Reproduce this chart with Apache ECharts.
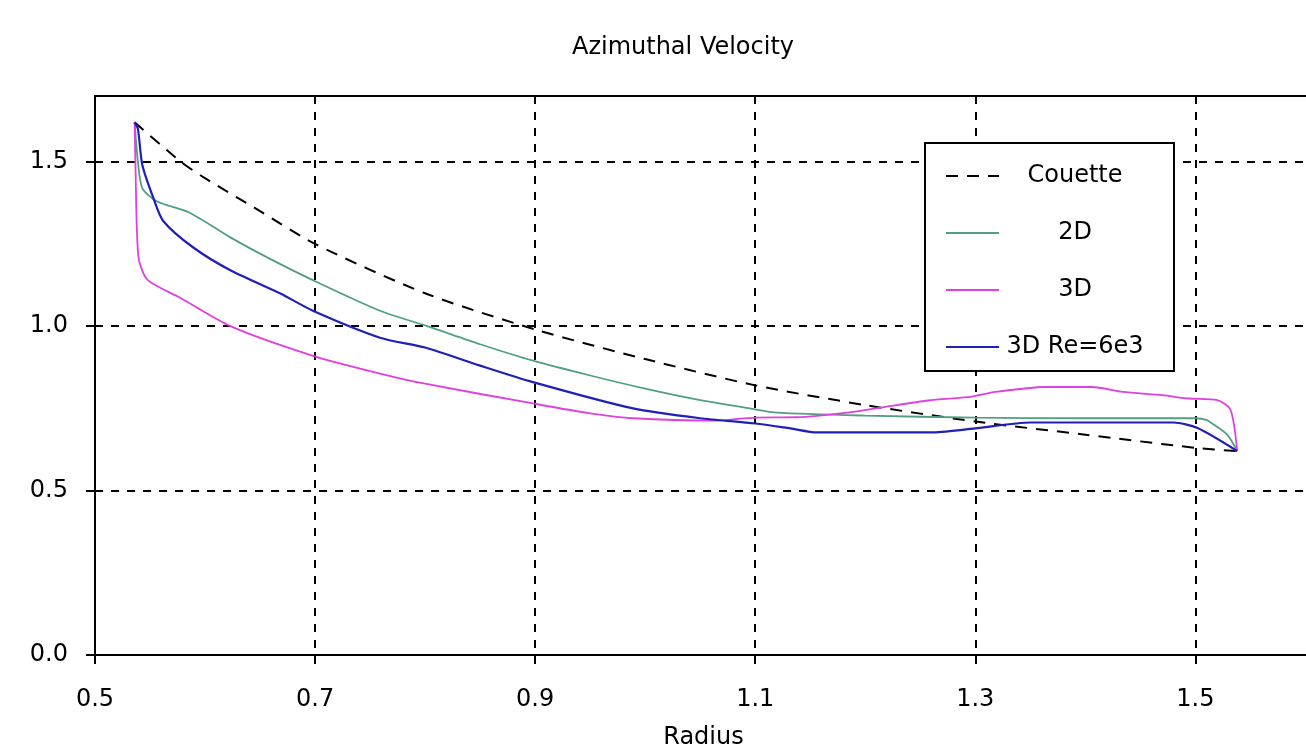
<!DOCTYPE html>
<html>
<head>
<meta charset="utf-8">
<title>Azimuthal Velocity</title>
<script src="https://cdn.jsdelivr.net/npm/echarts@6/dist/echarts.min.js"></script>
<style>
  html, body { margin: 0; padding: 0; background: #fff; }
  #chart { width: 1306px; height: 748px; }
</style>
</head>
<body>
<div id="chart"></div>
<script>
// values, [radius, velocity]
const couette = [
  [0.536, 1.62], [0.578, 1.50], [0.6, 1.45], [0.65, 1.35], [0.7, 1.25],
  [0.8, 1.10], [0.9, 0.99], [1.0, 0.90], [1.1, 0.82], [1.2, 0.76],
  [1.3, 0.71], [1.4, 0.67], [1.5, 0.63], [1.538, 0.62]
];

const flow2D = [
  [0.536, 1.62], [0.539, 1.50], [0.543, 1.42], [0.556, 1.38], [0.586, 1.345],
  [0.623, 1.27], [0.656, 1.21], [0.698, 1.14], [0.759, 1.047], [0.802, 1.0],
  [0.85, 0.945], [0.898, 0.895], [0.95, 0.85], [1.0, 0.81], [1.05, 0.775],
  [1.095, 0.75], [1.12, 0.737], [1.2, 0.728], [1.3, 0.722], [1.4, 0.72],
  [1.5, 0.72], [1.51, 0.715], [1.517, 0.70], [1.529, 0.67], [1.538, 0.62]
];

const flow3D = [
  [0.536, 1.62], [0.537, 1.45], [0.538, 1.30], [0.54, 1.20], [0.548, 1.14],
  [0.577, 1.087], [0.623, 1.0], [0.698, 0.91], [0.759, 0.856], [0.8, 0.825],
  [0.898, 0.765], [0.95, 0.735], [0.989, 0.72], [1.065, 0.713], [1.1, 0.722],
  [1.138, 0.723], [1.186, 0.738], [1.216, 0.753], [1.257, 0.774], [1.297, 0.786],
  [1.318, 0.80], [1.364, 0.815], [1.406, 0.815], [1.434, 0.80], [1.47, 0.79],
  [1.494, 0.78], [1.52, 0.775], [1.532, 0.745], [1.538, 0.62]
];

const flow3DRe = [
  [0.536, 1.62], [0.539, 1.60], [0.543, 1.49], [0.553, 1.39], [0.562, 1.32],
  [0.589, 1.24], [0.623, 1.17], [0.668, 1.10], [0.698, 1.047], [0.759, 0.965],
  [0.8, 0.935], [0.85, 0.88], [0.898, 0.83], [0.989, 0.75], [1.05, 0.72],
  [1.1, 0.704], [1.132, 0.689], [1.156, 0.677], [1.262, 0.677], [1.302, 0.69],
  [1.35, 0.707], [1.48, 0.707], [1.502, 0.69], [1.538, 0.62]
];

const seriesNames = ['Couette', '2D', '3D', '3D Re=6e3'];

const font = 'DejaVu Sans';
const chart = echarts.init(document.getElementById('chart'));

function lineSeries(name, data, color, width, type) {
  return {
    name: name,
    type: 'line',
    data: data,
    symbol: 'none',
    showSymbol: false,
    smooth: 0.25,
    lineStyle: { color: color, width: width, type: type || 'solid' },
    itemStyle: { color: color }
  };
}

chart.setOption({
  animation: false,
  backgroundColor: '#fff',
  title: {
    text: 'Azimuthal Velocity',
    left: 683,
    top: 36,
    padding: 0,
    textAlign: 'center',
    textStyle: { fontFamily: font, fontSize: 24, fontWeight: 'normal', color: '#000' }
  },
  grid: {
    left: 95,
    top: 96,
    right: -6,
    bottom: 93,
    outerBoundsMode: 'none',
    containLabel: false,
    show: true,
    borderColor: '#000',
    borderWidth: 2
  },
  legend: {
    orient: 'vertical',
    left: 925,
    top: 143,
    padding: [21, 28, 12, 20],
    itemGap: 33,
    itemWidth: 53,
    itemHeight: 14,
    borderColor: '#000',
    borderWidth: 2,
    backgroundColor: '#fff',
    itemStyle: { opacity: 0 },
    lineStyle: { opacity: 1 },
    formatter: '{c|{name}}',
    textStyle: {
      color: '#000',
      fontFamily: font,
      fontSize: 24,
      rich: {
        c: { width: 142, align: 'center', fontFamily: font, fontSize: 24, lineHeight: 24, color: '#000' }
      }
    },
    data: seriesNames
  },
  xAxis: {
    type: 'value',
    min: 0.5,
    max: 1.606,
    interval: 0.2,
    name: 'Radius',
    nameLocation: 'middle',
    nameGap: 71,
    nameTextStyle: { fontFamily: font, fontSize: 24, color: '#000' },
    axisLine: { lineStyle: { color: '#000', width: 2 } },
    axisTick: { length: 9, lineStyle: { color: '#000', width: 2 } },
    axisLabel: {
      margin: 33,
      showMaxLabel: false,
      fontFamily: font,
      fontSize: 24,
      color: '#000',
      formatter: v => v.toFixed(1)
    },
    splitLine: { lineStyle: { color: '#000', width: 2, type: [8, 8] } }
  },
  yAxis: {
    type: 'value',
    min: 0,
    max: 1.7,
    interval: 0.5,
    axisLine: { show: true, lineStyle: { color: '#000', width: 2 } },
    axisTick: { show: true, length: 9, lineStyle: { color: '#000', width: 2 } },
    axisLabel: {
      margin: 27,
      showMaxLabel: false,
      fontFamily: font,
      fontSize: 24,
      color: '#000',
      formatter: v => v.toFixed(1)
    },
    splitLine: { lineStyle: { color: '#000', width: 2, type: [8, 8] } }
  },
  series: [
    lineSeries(seriesNames[0], couette, '#000', 2, [12, 9]),
    lineSeries(seriesNames[1], flow2D, '#50a080', 1.8),
    lineSeries(seriesNames[2], flow3D, '#e040e0', 1.8),
    lineSeries(seriesNames[3], flow3DRe, '#2020b8', 2.2)
  ]
});
</script>
</body>
</html>
